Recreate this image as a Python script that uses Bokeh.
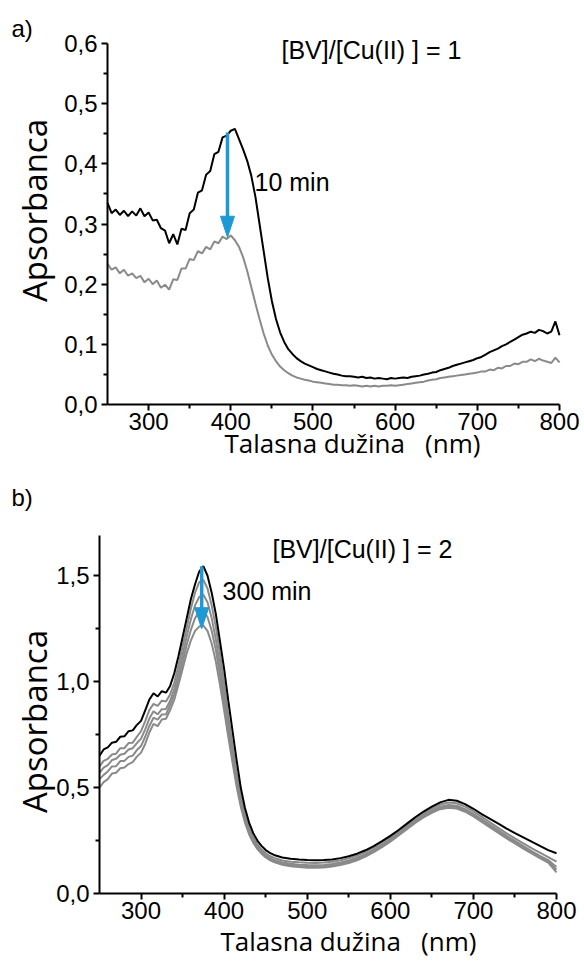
from bokeh.plotting import figure
from bokeh.layouts import column
from bokeh.models import Range1d, FixedTicker, CustomJSTickFormatter, Label
from bokeh.embed import file_html
from bokeh.resources import INLINE

# ---------------- data: panel a ----------------
wl_a = list(range(250, 805, 5))
abs_a_0 = [0.335, 0.318, 0.324, 0.315, 0.322, 0.313, 0.321, 0.314, 0.326, 0.313,
           0.319, 0.306, 0.307, 0.293, 0.289, 0.268, 0.283, 0.266, 0.292, 0.290,
           0.318, 0.324, 0.352, 0.356, 0.382, 0.388, 0.416, 0.420, 0.444, 0.447,
           0.455, 0.458, 0.441, 0.424, 0.405, 0.380, 0.345, 0.300, 0.255, 0.210,
           0.172, 0.142, 0.120, 0.104, 0.092, 0.084, 0.077, 0.072, 0.068, 0.065,
           0.062, 0.059, 0.057, 0.055, 0.053, 0.051, 0.050, 0.048, 0.047, 0.047,
           0.046, 0.045, 0.046, 0.044, 0.045, 0.043, 0.044, 0.043, 0.042, 0.044,
           0.043, 0.044, 0.045, 0.044, 0.046, 0.047, 0.048, 0.050, 0.051, 0.053,
           0.054, 0.057, 0.059, 0.061, 0.064, 0.066, 0.068, 0.070, 0.072, 0.074,
           0.077, 0.079, 0.083, 0.087, 0.090, 0.093, 0.097, 0.100, 0.104, 0.108,
           0.112, 0.116, 0.118, 0.121, 0.119, 0.124, 0.122, 0.118, 0.121, 0.138,
           0.115]
abs_a_10 = [0.234, 0.224, 0.228, 0.218, 0.224, 0.214, 0.218, 0.210, 0.214, 0.203,
            0.209, 0.200, 0.206, 0.194, 0.199, 0.191, 0.208, 0.207, 0.226, 0.226,
            0.242, 0.240, 0.255, 0.251, 0.262, 0.258, 0.271, 0.268, 0.279, 0.275,
            0.281, 0.273, 0.262, 0.245, 0.222, 0.195, 0.168, 0.142, 0.118, 0.098,
            0.083, 0.072, 0.063, 0.057, 0.052, 0.048, 0.045, 0.043, 0.041, 0.040,
            0.038, 0.037, 0.036, 0.035, 0.034, 0.033, 0.033, 0.032, 0.032, 0.031,
            0.032, 0.031, 0.030, 0.031, 0.030, 0.031, 0.030, 0.031, 0.031, 0.032,
            0.031, 0.032, 0.033, 0.034, 0.035, 0.036, 0.037, 0.038, 0.040, 0.041,
            0.042, 0.044, 0.045, 0.046, 0.047, 0.048, 0.049, 0.050, 0.051, 0.052,
            0.053, 0.055, 0.055, 0.058, 0.057, 0.061, 0.060, 0.064, 0.064, 0.068,
            0.067, 0.071, 0.071, 0.075, 0.072, 0.076, 0.073, 0.071, 0.069, 0.078,
            0.070]
arrow_a = (396, 0.452, 0.278)  # wavelength, from, to

# ---------------- data: panel b ----------------
wl_b = list(range(250, 465, 5)) + list(range(470, 810, 10))
abs_b_0 = [0.650, 0.680, 0.690, 0.712, 0.716, 0.740, 0.742, 0.766, 0.770, 0.796,
           0.815, 0.865, 0.915, 0.945, 0.930, 0.955, 0.948, 0.980, 1.040, 1.120,
           1.210, 1.300, 1.390, 1.460, 1.520, 1.545, 1.500, 1.420, 1.320, 1.190,
           1.060, 0.910, 0.770, 0.630, 0.500, 0.405, 0.335, 0.285, 0.250, 0.225,
           0.205, 0.192, 0.182,
           0.170, 0.164, 0.160, 0.158, 0.157, 0.158, 0.161, 0.167, 0.176, 0.188,
           0.204, 0.224, 0.247, 0.272, 0.300, 0.330, 0.360, 0.387, 0.410, 0.430,
           0.442, 0.438, 0.422, 0.400, 0.375, 0.352, 0.330, 0.306, 0.285, 0.265,
           0.245, 0.225, 0.205, 0.190]
abs_b_1 = [0.600, 0.626, 0.636, 0.656, 0.660, 0.686, 0.686, 0.710, 0.712, 0.740,
           0.766, 0.814, 0.866, 0.895, 0.886, 0.910, 0.906, 0.940, 0.995, 1.075,
           1.165, 1.255, 1.345, 1.420, 1.470, 1.480, 1.440, 1.360, 1.260, 1.130,
           0.990, 0.840, 0.700, 0.570, 0.460, 0.375, 0.310, 0.265, 0.232, 0.208,
           0.190, 0.177, 0.168,
           0.156, 0.150, 0.147, 0.145, 0.144, 0.146, 0.150, 0.157, 0.166, 0.179,
           0.196, 0.217, 0.241, 0.266, 0.295, 0.325, 0.354, 0.380, 0.402, 0.420,
           0.430, 0.426, 0.410, 0.388, 0.362, 0.336, 0.310, 0.284, 0.260, 0.237,
           0.214, 0.193, 0.172, 0.150]
abs_b_2 = [0.570, 0.594, 0.606, 0.630, 0.636, 0.655, 0.660, 0.680, 0.686, 0.710,
           0.731, 0.775, 0.826, 0.860, 0.846, 0.870, 0.871, 0.910, 0.965, 1.040,
           1.125, 1.215, 1.295, 1.360, 1.400, 1.410, 1.375, 1.300, 1.200, 1.075,
           0.940, 0.800, 0.665, 0.540, 0.435, 0.355, 0.295, 0.252, 0.220, 0.198,
           0.180, 0.168, 0.158,
           0.146, 0.140, 0.136, 0.134, 0.133, 0.135, 0.139, 0.146, 0.156, 0.169,
           0.186, 0.207, 0.231, 0.257, 0.286, 0.316, 0.345, 0.371, 0.393, 0.410,
           0.418, 0.414, 0.398, 0.376, 0.350, 0.324, 0.298, 0.272, 0.248, 0.224,
           0.200, 0.178, 0.158, 0.125]
abs_b_3 = [0.540, 0.560, 0.576, 0.600, 0.601, 0.625, 0.626, 0.645, 0.651, 0.677,
           0.696, 0.740, 0.791, 0.830, 0.821, 0.845, 0.846, 0.890, 0.940, 1.010,
           1.090, 1.175, 1.245, 1.300, 1.330, 1.335, 1.305, 1.240, 1.150, 1.030,
           0.900, 0.770, 0.640, 0.522, 0.422, 0.345, 0.288, 0.246, 0.215, 0.193,
           0.175, 0.163, 0.153,
           0.141, 0.134, 0.130, 0.128, 0.127, 0.129, 0.133, 0.140, 0.150, 0.163,
           0.180, 0.201, 0.225, 0.251, 0.280, 0.310, 0.339, 0.365, 0.387, 0.404,
           0.412, 0.408, 0.392, 0.370, 0.344, 0.318, 0.292, 0.266, 0.242, 0.218,
           0.194, 0.172, 0.152, 0.112]
abs_b_4 = [0.500, 0.526, 0.540, 0.566, 0.570, 0.591, 0.595, 0.611, 0.620, 0.646,
           0.665, 0.706, 0.760, 0.801, 0.790, 0.821, 0.825, 0.866, 0.915, 0.985,
           1.060, 1.135, 1.195, 1.240, 1.260, 1.265, 1.240, 1.180, 1.095, 0.985,
           0.865, 0.740, 0.620, 0.505, 0.410, 0.335, 0.280, 0.240, 0.210, 0.188,
           0.170, 0.158, 0.148,
           0.136, 0.129, 0.125, 0.122, 0.121, 0.123, 0.127, 0.134, 0.144, 0.157,
           0.174, 0.195, 0.219, 0.245, 0.274, 0.304, 0.333, 0.359, 0.381, 0.398,
           0.405, 0.401, 0.386, 0.364, 0.338, 0.312, 0.286, 0.260, 0.236, 0.212,
           0.189, 0.167, 0.146, 0.100]
arrow_b = (373, 1.545, 1.25)

x_ticks = [300, 400, 500, 600, 700, 800]
x_minor = [350, 450, 550, 650, 750]
y_ticks_a = [0.0, 0.1, 0.2, 0.3, 0.4, 0.5, 0.6]
y_minor_a = [0.05, 0.15, 0.25, 0.35, 0.45, 0.55]
y_ticks_b = [0.0, 0.5, 1.0, 1.5]
y_minor_b = [0.25, 0.75, 1.25]

X_TITLE = "Talasna dužina\u00a0\u00a0\u00a0(nm)"
Y_TITLE = "Apsorbanca"

BLACK = "#000000"
GRAY = "#8a8a8a"
BLUE = "#1d9ad6"
TICK_FONT = "Liberation Sans"
TITLE_FONT = "Open Sans"
W = 584


class Panel:
    """Figure whose frame fills the canvas; axes are pinned at (250, 0)."""

    def __init__(self, height, left, right, top, bottom, ymax, yticks, yminor):
        self.l, self.r, self.t, self.b, self.ymax = left, right, top, bottom, ymax
        self.kx = 550 / (right - left)       # nm per pixel
        self.ky = ymax / (bottom - top)      # absorbance per pixel
        x0, y1 = self.data(0, 0)
        x1, y0 = self.data(W, height)
        p = figure(width=W, height=height, output_backend="svg", toolbar_location=None,
                   x_range=Range1d(x0, x1), y_range=Range1d(y0, y1),
                   min_border_left=0, min_border_right=0, min_border_top=0, min_border_bottom=0)
        p.outline_line_color = None
        p.grid.visible = False
        p.background_fill_color = "white"
        p.border_fill_color = "white"
        p.xaxis.ticker = FixedTicker(ticks=x_ticks, minor_ticks=x_minor)
        p.yaxis.ticker = FixedTicker(ticks=yticks, minor_ticks=yminor)
        p.yaxis.formatter = CustomJSTickFormatter(code="return tick.toFixed(1).replace('.', ',');")
        p.xaxis.fixed_location = 0
        p.yaxis.fixed_location = 250
        p.xaxis.bounds = (250, 800)
        p.yaxis.bounds = (0, ymax)
        for ax in (p.xaxis, p.yaxis):
            ax.axis_line_width = 2
            ax.axis_line_color = "black"
            ax.major_tick_line_width = 2
            ax.minor_tick_line_width = 2
            ax.major_tick_out = 6
            ax.major_tick_in = 0
            ax.minor_tick_out = 4
            ax.minor_tick_in = 0
            ax.major_label_text_font = TICK_FONT
            ax.major_label_text_font_size = "24px"
            ax.major_label_text_color = "black"
        p.xaxis.major_label_standoff = 2
        p.yaxis.major_label_standoff = 4
        self.p = p

    def data(self, px, py):
        return 250 + (px - self.l) * self.kx, (self.b - py) * self.ky

    def label(self, px, py, text, font, size, align="left", angle=0.0):
        x, y = self.data(px, py)
        self.p.add_layout(Label(x=x, y=y, text=text, angle=angle, text_font=font,
                                text_font_size=size, text_align=align,
                                text_baseline="middle", text_color="black"))

    def arrow(self, arrow):
        xa, y0, y1 = arrow
        head_len = 21 * self.ky
        head_half = 7 * self.kx
        self.p.segment(x0=[xa], y0=[y0], x1=[xa], y1=[y1 + head_len * 0.6],
                       line_color=BLUE, line_width=3.5)
        self.p.patch(x=[xa - head_half, xa + head_half, xa],
                     y=[y1 + head_len, y1 + head_len, y1],
                     fill_color=BLUE, line_color=BLUE, line_width=1)


# ---------------- panel a ----------------
HA = 468
A = Panel(HA, 107, 559, 43, 404, 0.6, y_ticks_a, y_minor_a)
A.p.line(wl_a, abs_a_10, line_color=GRAY, line_width=2)
A.p.line(wl_a, abs_a_0, line_color=BLACK, line_width=2)
A.arrow(arrow_a)
A.label(11, 28, "a)", TICK_FONT, "24px")
A.label(34, 210, Y_TITLE, TITLE_FONT, "33px", "center", 1.5707963)
A.label(352, 442, X_TITLE, TITLE_FONT, "26px", "center")
A.label(281, 49, "[BV]/[Cu(II) ] = 1", TICK_FONT, "25px")
A.label(254, 181, "10 min", TICK_FONT, "25px")

# ---------------- panel b ----------------
HB = 962 - HA
B = Panel(HB, 99, 556, 535 - HA, 893 - HA, 1.69, y_ticks_b, y_minor_b)
for series in (abs_b_1, abs_b_2, abs_b_3, abs_b_4):
    B.p.line(wl_b, series, line_color=GRAY, line_width=2)
B.p.line(wl_b, abs_b_0, line_color=BLACK, line_width=2)
B.arrow(arrow_b)
B.label(11, 497 - HA, "b)", TICK_FONT, "24px")
B.label(34, 721 - HA, Y_TITLE, TITLE_FONT, "33px", "center", 1.5707963)
B.label(348, 940 - HA, X_TITLE, TITLE_FONT, "26px", "center")
B.label(272, 548 - HA, "[BV]/[Cu(II) ] = 2", TICK_FONT, "25px")
B.label(222, 590 - HA, "300 min", TICK_FONT, "25px")

layout = column(A.p, B.p, spacing=0)
open("out.html", "w").write(file_html(layout, INLINE))
